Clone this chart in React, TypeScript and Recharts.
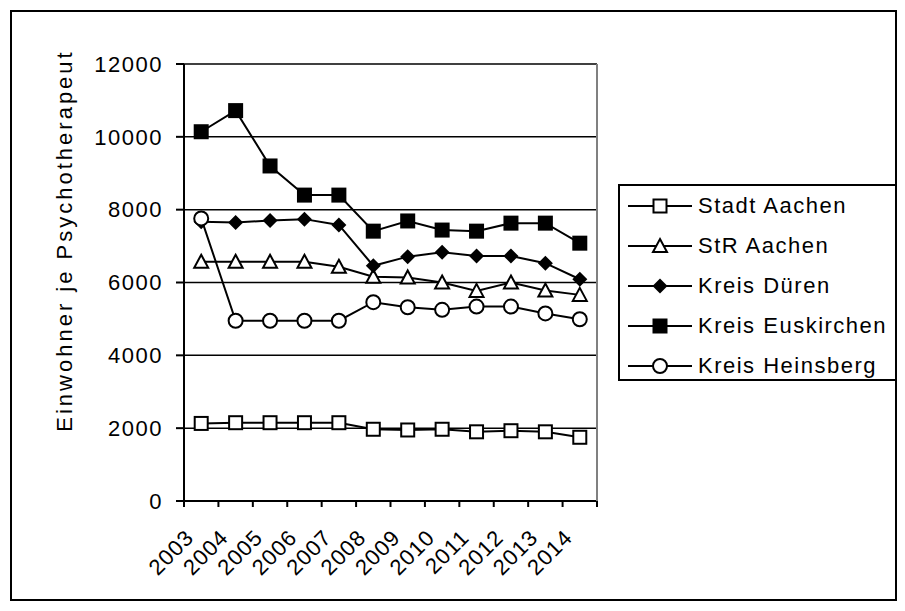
import { LineChart, Line, XAxis, YAxis, CartesianGrid, Legend } from 'recharts'

const years = ['2003', '2004', '2005', '2006', '2007', '2008', '2009', '2010', '2011', '2012', '2013', '2014']
const stadtAachen = [2130, 2150, 2150, 2150, 2150, 1970, 1950, 1970, 1900, 1930, 1900, 1750]
const strAachen = [6570, 6570, 6570, 6570, 6430, 6160, 6140, 6000, 5770, 6000, 5780, 5660]
const kreisDueren = [7670, 7650, 7700, 7740, 7580, 6460, 6710, 6830, 6730, 6730, 6530, 6090]
const kreisEuskirchen = [10140, 10720, 9200, 8400, 8400, 7410, 7690, 7440, 7410, 7630, 7630, 7080]
const kreisHeinsberg = [7760, 4950, 4950, 4950, 4950, 5460, 5320, 5250, 5340, 5340, 5150, 4990]
const yTicks = [0, 2000, 4000, 6000, 8000, 10000, 12000]
const yTitle = 'Einwohner je Psychotherapeut'

type Shape = 'openSquare' | 'triangle' | 'diamond' | 'square' | 'circle'

const SERIES: { key: string; name: string; shape: Shape }[] = [
  { key: 'stadtAachen', name: 'Stadt Aachen', shape: 'openSquare' },
  { key: 'strAachen', name: 'StR Aachen', shape: 'triangle' },
  { key: 'kreisDueren', name: 'Kreis Düren', shape: 'diamond' },
  { key: 'kreisEuskirchen', name: 'Kreis Euskirchen', shape: 'square' },
  { key: 'kreisHeinsberg', name: 'Kreis Heinsberg', shape: 'circle' },
]

const data = years.map((year, i) => ({
  year,
  stadtAachen: stadtAachen[i],
  strAachen: strAachen[i],
  kreisDueren: kreisDueren[i],
  kreisEuskirchen: kreisEuskirchen[i],
  kreisHeinsberg: kreisHeinsberg[i],
}))

const FONT = '"Liberation Sans", Arial, sans-serif'
const W = 905
const H = 611
const PLOT_LEFT = 184
const PLOT_RIGHT = 597
const PLOT_TOP = 64
const PLOT_BOTTOM = 501
const BAND = (PLOT_RIGHT - PLOT_LEFT) / years.length

function Marker({ cx, cy, shape }: { cx: number; cy: number; shape: Shape }) {
  const common = { stroke: '#000', strokeWidth: 2 }
  switch (shape) {
    case 'openSquare':
      return <rect x={cx - 6.5} y={cy - 6.5} width={13} height={13} fill="#fff" {...common} />
    case 'square':
      return <rect x={cx - 7.5} y={cy - 7.5} width={15} height={15} fill="#000" stroke="none" />
    case 'triangle':
      return <polygon points={`${cx},${cy - 7} ${cx + 7},${cy + 6} ${cx - 7},${cy + 6}`} fill="#fff" {...common} />
    case 'diamond':
      return <polygon points={`${cx},${cy - 7.5} ${cx + 7.5},${cy} ${cx},${cy + 7.5} ${cx - 7.5},${cy}`} fill="#000" stroke="none" />
    default:
      return <circle cx={cx} cy={cy} r={7} fill="#fff" {...common} />
  }
}

// year labels sit between tick marks, the marks go on the band edges
function YearTick(props: any) {
  const { x, y, payload, index } = props
  const left = x - BAND / 2
  return (
    <g>
      <line x1={left} x2={left} y1={y} y2={y + 6} stroke="#000" strokeWidth={2} />
      {index === years.length - 1 && (
        <line x1={x + BAND / 2} x2={x + BAND / 2} y1={y} y2={y + 6} stroke="#000" strokeWidth={2} />
      )}
      <text
        x={x - 6}
        y={y + 38}
        transform={`rotate(-45, ${x - 6}, ${y + 38})`}
        textAnchor="end"
        fill="#000"
        style={{ fontFamily: FONT, fontSize: 22, letterSpacing: 1 }}
      >
        {payload.value}
      </text>
    </g>
  )
}

function LegendBox() {
  return (
    <div
      style={{
        boxSizing: 'border-box',
        width: '100%',
        height: '100%',
        border: '2px solid #000',
        background: '#fff',
        fontFamily: FONT,
      }}
    >
      {SERIES.map(s => (
        <div key={s.key} style={{ display: 'flex', alignItems: 'center', height: 40 }}>
          <svg width={72} height={20} style={{ flex: 'none', marginLeft: 6 }}>
            <line x1={2} x2={66} y1={10} y2={10} stroke="#000" strokeWidth={2} />
            <Marker cx={34} cy={10} shape={s.shape} />
          </svg>
          <span style={{ fontSize: 22, letterSpacing: 1.5, color: '#000', whiteSpace: 'nowrap' }}>{s.name}</span>
        </div>
      ))}
    </div>
  )
}

export default function App() {
  return (
    <div style={{ position: 'absolute', left: 0, top: 0, width: W, height: H, background: '#fff' }}>
      <div
        style={{
          position: 'absolute',
          left: 10,
          top: 10,
          width: 887,
          height: 591,
          border: '2px solid #000',
          boxSizing: 'border-box',
        }}
      />
      <LineChart
        width={W}
        height={H}
        data={data}
        margin={{ top: PLOT_TOP, right: 0, bottom: 0, left: 0 }}
        style={{ position: 'absolute', left: 0, top: 0 }}
      >
        <CartesianGrid vertical={false} stroke="#000" strokeWidth={1.5} />
        <XAxis
          dataKey="year"
          padding={{ left: BAND / 2, right: BAND / 2 }}
          height={H - PLOT_BOTTOM}
          axisLine={{ stroke: '#000', strokeWidth: 2 }}
          tickLine={false}
          tickSize={0}
          tickMargin={0}
          interval={0}
          tick={<YearTick />}
        />
        {/* grey plot-area border: top and right */}
        <XAxis
          xAxisId="frame"
          dataKey="year"
          orientation="top"
          height={0}
          axisLine={{ stroke: '#808080', strokeWidth: 2 }}
          tick={false}
          tickLine={false}
        />
        <YAxis
          domain={[0, 12000]}
          ticks={yTicks}
          width={PLOT_LEFT}
          axisLine={{ stroke: '#000', strokeWidth: 2 }}
          tickLine={{ stroke: '#000', strokeWidth: 2 }}
          tickSize={8}
          tickMargin={13}
          tick={{ fill: '#000', fontSize: 22, fontFamily: FONT, letterSpacing: 1.5 }}
          label={{
            value: yTitle,
            angle: -90,
            position: 'center',
            dx: -28,
            dy: -42,
            style: { fontFamily: FONT, fontSize: 22, letterSpacing: 3, fill: '#000' },
          }}
        />
        <YAxis
          yAxisId="frame"
          orientation="right"
          domain={[0, 12000]}
          width={W - PLOT_RIGHT}
          axisLine={{ stroke: '#808080', strokeWidth: 2 }}
          tick={false}
          tickLine={false}
        />
        <Legend
          layout="vertical"
          align="center"
          verticalAlign="middle"
          wrapperStyle={{ left: 618, top: 184, width: 279, height: 197 }}
          content={() => <LegendBox />}
        />
        {SERIES.map(s => (
          <Line
            key={s.key}
            dataKey={s.key}
            name={s.name}
            type="linear"
            stroke="#000"
            strokeWidth={2}
            isAnimationActive={false}
            dot={(p: any) => <Marker key={`${s.key}-${p.index}`} cx={p.cx} cy={p.cy} shape={s.shape} />}
            activeDot={false}
          />
        ))}
      </LineChart>
    </div>
  )
}
